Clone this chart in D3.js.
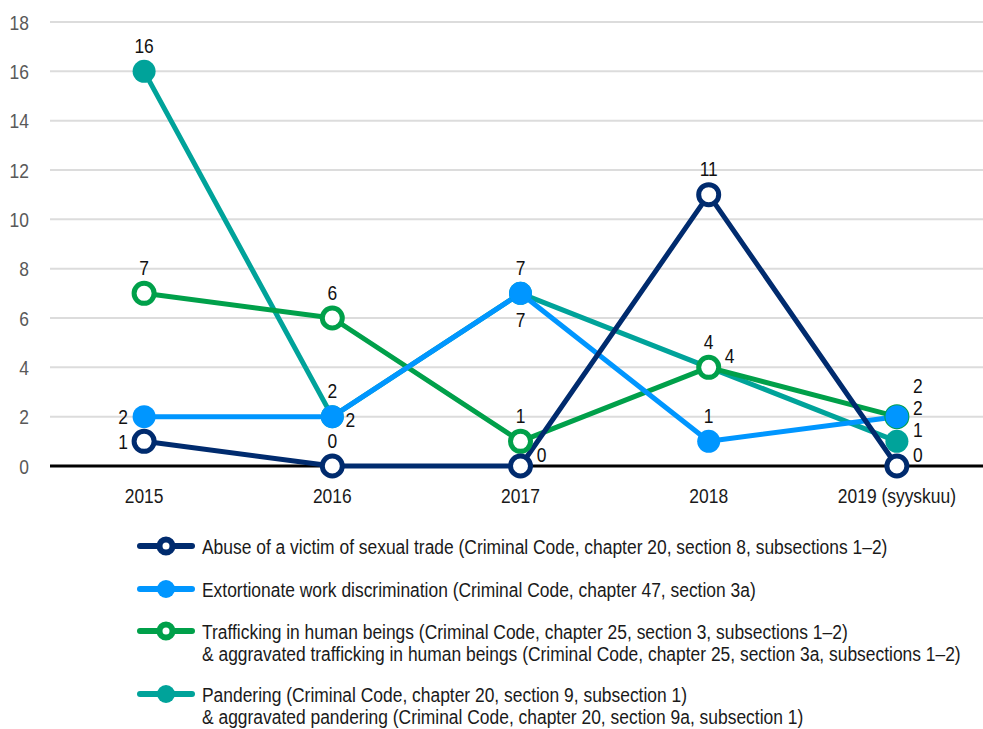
<!DOCTYPE html>
<html><head><meta charset="utf-8">
<script src="https://cdn.jsdelivr.net/npm/d3@7"></script>
<style>
body{margin:0;background:#fff;}
svg text{font-family:"Liberation Sans",Arial,sans-serif;}
</style></head><body>
<svg id="c" width="983" height="729"></svg>
<script>
const categories = ["2015","2016","2017","2018","2019 (syyskuu)"];
const yTicks = [0,2,4,6,8,10,12,14,16,18];
const abuse = [1,0,0,11,0];
const extortion = [2,2,7,1,2];
const trafficking = [7,6,1,4,2];
const pandering = [16,2,7,4,1];
const seriesNames = [
  ["Abuse of a victim of sexual trade (Criminal Code, chapter 20, section 8, subsections 1\u20132)"],
  ["Extortionate work discrimination (Criminal Code, chapter 47, section 3a)"],
  ["Trafficking in human beings (Criminal Code, chapter 25, section 3, subsections 1\u20132)",
   "& aggravated trafficking in human beings (Criminal Code, chapter 25, section 3a, subsections 1\u20132)"],
  ["Pandering (Criminal Code, chapter 20, section 9, subsection 1)",
   "& aggravated pandering (Criminal Code, chapter 20, section 9a, subsection 1)"]
];

// label placements (style): offsets of label centre from point
const place = {
  A: {dx:0, dy:-26}, B: {dx:0, dy:26}, L: {dx:-21, dy:0}, R: {dx:18, dy:3},
  RU: {dx:21, dy:-12}, RB: {dx:21, dy:-9}, RUU: {dx:21, dy:-31}
};
const labelPos = {
  abuse: ["L","A","RU","A","RU"],
  extortion: ["L","R","B","A","RB"],
  trafficking: ["A","A","A","RU","RUU"],
  pandering: ["A","A","A","A","RU"]
};

const series = [
  {key:"pandering", values:pandering, color:"#00a39a", hollow:false, name:seriesNames[3]},
  {key:"trafficking", values:trafficking, color:"#00a04a", hollow:true, name:seriesNames[2]},
  {key:"extortion", values:extortion, color:"#0096ff", hollow:false, name:seriesNames[1]},
  {key:"abuse", values:abuse, color:"#002b6e", hollow:true, name:seriesNames[0]}
];
const legendOrder = ["abuse","extortion","trafficking","pandering"];

const svg = d3.select("#c");
const FS = 21;
// horizontal condensing factor so text matches the narrow reference font
const probe = svg.append("text").attr("font-size",FS).text(seriesNames[0][0]);
const K = 686 / probe.node().getComputedTextLength();
probe.remove();
const CAP = FS*0.36;

function label(parent, x, yc, str, anchor, fill){
  return parent.append("text")
    .attr("transform",`translate(${x},${yc+CAP}) scale(${K},1)`)
    .attr("text-anchor",anchor).attr("font-size",FS).attr("fill",fill).text(str);
}

const x = d3.scaleBand().domain(categories).range([50, 991]);
const y = d3.scaleLinear().domain([0,18]).range([466, 22]);
const cx = c => x(c) + x.bandwidth()/2;

// gridlines
svg.append("g").selectAll("line").data(y.ticks(9).filter(t=>t>0)).join("line")
  .attr("x1",50).attr("x2",983).attr("y1",d=>y(d)).attr("y2",d=>y(d))
  .attr("stroke","#dcdcdc").attr("stroke-width",2);

// y axis labels
const gy = svg.append("g");
yTicks.forEach(t=>label(gy, 29, y(t), t, "end", "#595959"));
// x axis labels
const gx = svg.append("g");
categories.forEach(c=>label(gx, cx(c), 495, c, "middle", "#1a1a1a"));

// zero line
svg.append("line").attr("x1",50).attr("x2",983).attr("y1",y(0)).attr("y2",y(0))
  .attr("stroke","#000").attr("stroke-width",3);

const line = d3.line().x((d,i)=>cx(categories[i])).y(d=>y(d));

series.forEach(s=>{
  svg.append("path").datum(s.values).attr("d",line)
    .attr("fill","none").attr("stroke",s.color).attr("stroke-width",5)
    .attr("stroke-linejoin","round");
});
series.forEach(s=>{
  svg.append("g").selectAll("circle").data(s.values).join("circle")
    .attr("cx",(d,i)=>cx(categories[i])).attr("cy",d=>y(d))
    .attr("r", s.hollow ? 10 : 11.5)
    .attr("fill", s.hollow ? "#fff" : s.color)
    .attr("stroke", s.hollow ? s.color : "none")
    .attr("stroke-width", s.hollow ? 5 : 0);
});
series.forEach(s=>{
  const g = svg.append("g");
  s.values.forEach((v,i)=>{
    const p = place[labelPos[s.key][i]];
    label(g, cx(categories[i]) + p.dx, y(v) + p.dy, v, "middle", "#111");
  });
});

// legend
const legendRows = [546, 589, 631, 694];
legendOrder.forEach((k,i)=>{
  const s = series.find(t=>t.key===k);
  const g = svg.append("g").attr("transform",`translate(0,${legendRows[i]})`);
  g.append("line").attr("x1",140).attr("x2",192).attr("y1",0).attr("y2",0)
    .attr("stroke",s.color).attr("stroke-width",6).attr("stroke-linecap","round");
  g.append("circle").attr("cx",166).attr("cy",0).attr("r", s.hollow?6.5:9)
    .attr("fill", s.hollow ? "#fff" : s.color)
    .attr("stroke", s.hollow ? s.color : "none").attr("stroke-width", 6);
  s.name.forEach((t,j)=>label(g, 202, j*22, t, "start", "#1a1a1a"));
});
</script></body></html>
